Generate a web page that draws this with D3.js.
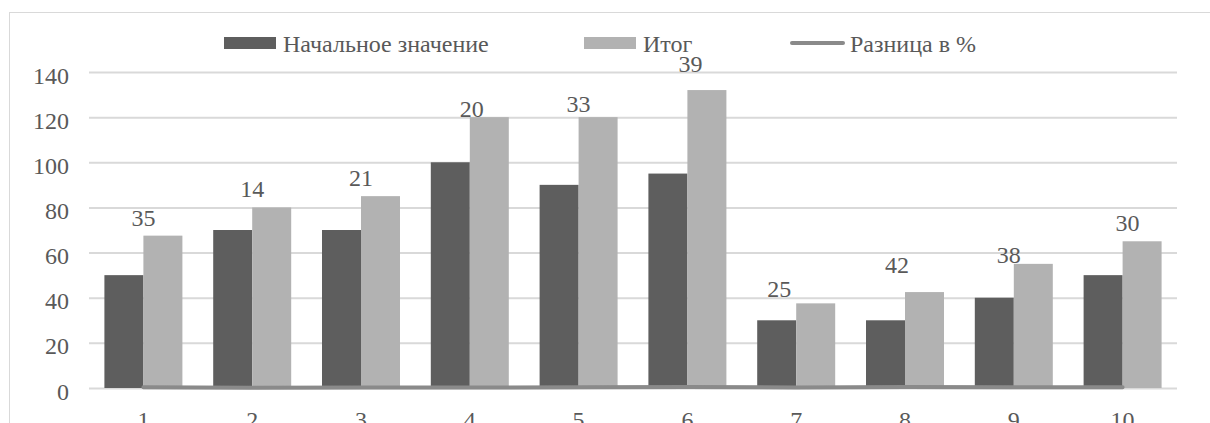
<!DOCTYPE html>
<html>
<head>
<meta charset="utf-8">
<script src="https://cdn.jsdelivr.net/npm/d3@7/dist/d3.min.js"></script>
</head>
<body style="margin:0">
<svg id="chart" width="1210" height="423"></svg>
<script>
// Categories and series
const categories = ["1", "2", "3", "4", "5", "6", "7", "8", "9", "10"];
const startValues = [50, 70, 70, 100, 90, 95, 30, 30, 40, 50];
const totalValues = [67.5, 80, 85, 120, 120, 132, 37.5, 42.5, 55, 65];
const diffPercent = [35, 14, 21, 20, 33, 39, 25, 42, 38, 30];
const yTicks = [0, 20, 40, 60, 80, 100, 120, 140];
const seriesNames = ["Начальное значение", "Итог", "Разница в %"];

const colors = { start: "#5e5e5e", total: "#b2b2b2", diff: "#8a8a8a", grid: "#d9d9d9", text: "#595959" };

const styleText = sel => sel
  .attr("font-family", "Liberation Serif")
  .attr("font-size", 24)
  .attr("fill", colors.text)
  .style("font-family", '"Liberation Serif"')
  .style("font-size", "24px");

const svg = d3.select("#chart");

// Outer chart frame
svg.append("rect")
  .attr("x", 9.5).attr("y", 12.5)
  .attr("width", 1240).attr("height", 460)
  .attr("fill", "none").attr("stroke", "#d9d9d9").attr("stroke-width", 1);

const plot = { left: 89, right: 1177, top: 72, bottom: 388 };

const x = d3.scaleBand().domain(categories).range([plot.left, plot.right]).paddingInner(0).paddingOuter(0);
const xSub = d3.scaleBand().domain(["start", "total"]).range([0, x.bandwidth()]).paddingInner(0).paddingOuter(0.395);
const y = d3.scaleLinear().domain([0, 140]).range([plot.bottom, plot.top]);
const xCenter = c => x(c) + x.bandwidth() / 2;

// Gridlines and value labels
const yAxis = d3.axisLeft(y).tickValues(yTicks).tickSize(-(plot.right - plot.left)).tickPadding(20).tickFormat(d3.format("d"));
const gy = svg.append("g").attr("transform", `translate(${plot.left},0)`).call(yAxis);
gy.attr("font-family", "Liberation Serif").attr("font-size", 24);
gy.select(".domain").remove();
gy.selectAll(".tick line").attr("stroke", colors.grid).attr("stroke-width", 2);
gy.selectAll(".tick text").call(styleText).attr("dy", "0.46em");

// Bars
const groups = svg.append("g").selectAll("g").data(categories).join("g")
  .attr("transform", d => `translate(${x(d)},0)`);

groups.append("rect")
  .attr("x", xSub("start")).attr("width", xSub.bandwidth())
  .attr("y", (d, i) => y(startValues[i]))
  .attr("height", (d, i) => y(0) - y(startValues[i]))
  .attr("fill", colors.start);

groups.append("rect")
  .attr("x", xSub("total")).attr("width", xSub.bandwidth())
  .attr("y", (d, i) => y(totalValues[i]))
  .attr("height", (d, i) => y(0) - y(totalValues[i]))
  .attr("fill", colors.total);

// Difference line (percent as a fraction on the value axis)
const line = d3.line()
  .x((d, i) => xCenter(categories[i]))
  .y(d => y(d / 100));
svg.append("path")
  .datum(diffPercent)
  .attr("d", line)
  .attr("fill", "none")
  .attr("stroke", colors.diff)
  .attr("stroke-width", 4)
  .attr("stroke-linecap", "round")
  .attr("stroke-linejoin", "round");

// Percent labels over the totals, each hand-nudged as in the worksheet
const labelNudge = [[0, -10], [0, -10], [0, -10], [2, 0], [0, -5], [3, -18], [-17, -6], [-8, -19], [-5, -1], [5, -10]];
svg.append("g").selectAll("text").data(diffPercent).join("text")
  .attr("x", (d, i) => xCenter(categories[i]) + labelNudge[i][0])
  .attr("y", (d, i) => y(totalValues[i]) + labelNudge[i][1])
  .attr("text-anchor", "middle")
  .call(styleText)
  .text(d => d);

// Category labels
const xAxis = d3.axisBottom(x).tickSize(0);
const gx = svg.append("g").attr("transform", `translate(0,${plot.bottom})`).call(xAxis);
gx.attr("font-family", "Liberation Serif").attr("font-size", 24);
gx.select(".domain").remove();
gx.selectAll(".tick text").call(styleText).attr("y", 40).attr("dy", 0);

// Legend
const legend = svg.append("g");
const legendItems = [
  { name: seriesNames[0], type: "rect", color: colors.start, x: 224 },
  { name: seriesNames[1], type: "rect", color: colors.total, x: 584 },
  { name: seriesNames[2], type: "line", color: colors.diff, x: 790 }
];
legendItems.forEach(it => {
  if (it.type === "rect") {
    legend.append("rect").attr("x", it.x).attr("y", 37).attr("width", 52).attr("height", 12).attr("fill", it.color);
    legend.append("text").attr("x", it.x + 59).attr("y", 52).call(styleText).text(it.name);
  } else {
    legend.append("line").attr("x1", it.x + 2).attr("x2", it.x + 53).attr("y1", 43).attr("y2", 43)
      .attr("stroke", it.color).attr("stroke-width", 4).attr("stroke-linecap", "round");
    legend.append("text").attr("x", it.x + 60).attr("y", 52).call(styleText).text(it.name);
  }
});
</script>
</body>
</html>
